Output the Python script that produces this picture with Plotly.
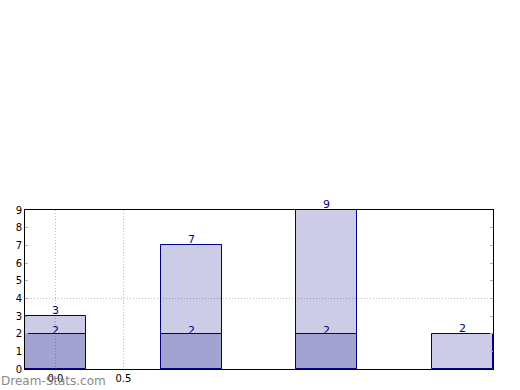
import plotly.graph_objects as go

categories = [0, 1, 2, 3]
series_a = [3, 7, 9, 2]
series_b = [2, 2, 2, None]
x_tick_vals = [0.0, 0.5]
x_tick_text = ["0.0", "0.5"]
y_tick_vals = list(range(0, 10))
y_grid_vals = [4]

fill = "rgba(0,0,128,0.2)"
edge = "#000080"
font = "DejaVu Sans"
grid = "#bbbbbb"

fig = go.Figure()
for vals in (series_a, series_b):
    fig.add_trace(go.Bar(x=categories, y=vals, width=0.45,
                         marker=dict(color=fill, line=dict(color=edge, width=1)),
                         showlegend=False, hoverinfo="skip"))

annotations = []
for vals, shift in ((series_a, -3), (series_b, -5)):
    for c, v in zip(categories, vals):
        if v is None:
            continue
        annotations.append(dict(x=c, y=v, xref="x", yref="y", text=str(v),
                                showarrow=False, yanchor="bottom", yshift=shift,
                                font=dict(family=font, size=11, color=edge)))
annotations.append(dict(x=0, y=0, xref="paper", yref="paper", xanchor="left",
                        yanchor="top", xshift=-26, yshift=-3,
                        text="Dream-Stats.com", showarrow=False,
                        font=dict(family=font, size=12, color="#8a8a8a")))

fig.update_layout(
    width=520, height=390,
    margin=dict(l=25, r=27, t=210, b=21, autoexpand=False),
    paper_bgcolor="white", plot_bgcolor="white",
    barmode="overlay", bargap=0,
    font=dict(family=font, size=10, color="black"),
    annotations=annotations,
    xaxis=dict(range=[-0.225, 3.225], tickvals=x_tick_vals, ticktext=x_tick_text,
               showgrid=True, gridcolor=grid, griddash="1px,2px", gridwidth=1,
               showline=True, linecolor="black", linewidth=1, mirror=True,
               ticks="", zeroline=False, tickfont=dict(size=10), automargin=False),
    yaxis=dict(range=[0, 9], tickvals=y_tick_vals, showgrid=False,
               showline=True, linecolor="black", linewidth=1, mirror="ticks",
               ticks="inside", ticklen=3, tickcolor="#b0b0b0",
               zeroline=False, tickfont=dict(size=10), automargin=False),
    yaxis2=dict(range=[0, 9], overlaying="y", tickvals=y_grid_vals,
                showticklabels=False, showgrid=True, gridcolor=grid,
                griddash="1px,2px", gridwidth=1, zeroline=False, showline=False,
                ticks="", automargin=False),
)
# invisible trace to activate the overlay axis carrying the y=4 gridline
fig.add_trace(go.Scatter(x=[None], y=[None], yaxis="y2", showlegend=False,
                         hoverinfo="skip"))

fig.write_html("out.html", config={"displayModeBar": False},
               post_script="document.body.style.margin='0';")
